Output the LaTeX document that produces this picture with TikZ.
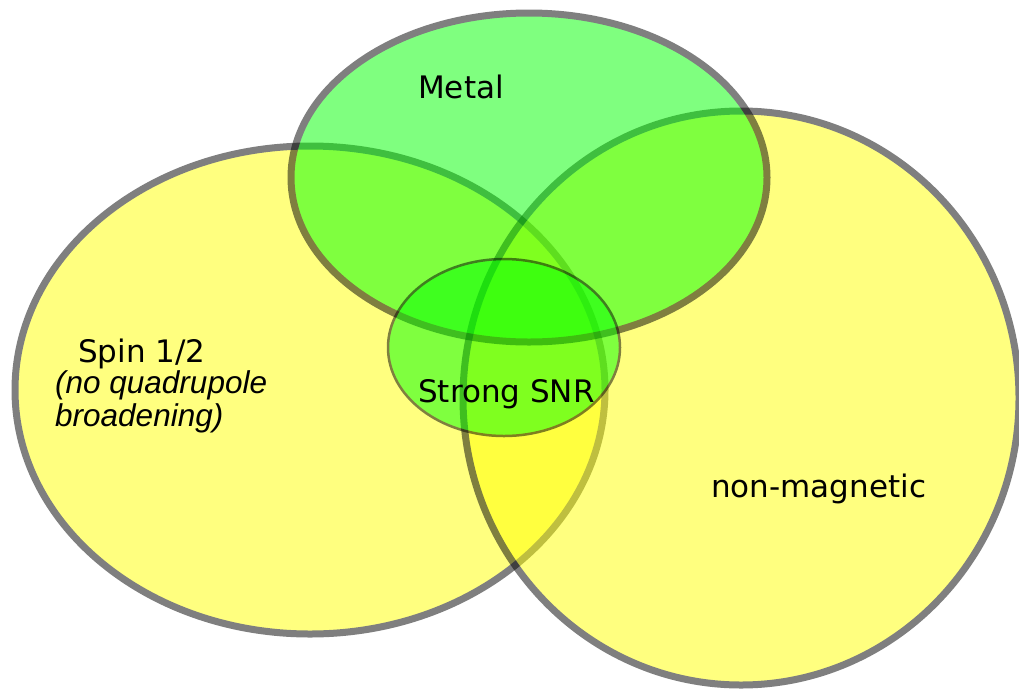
\documentclass[tikz,border=0pt]{standalone}
\usepackage{fontspec}
\setmainfont{DejaVu Sans}
\newfontfamily\notefont{Liberation Sans}
\definecolor{setyellow}{RGB}{255,255,0}
\definecolor{setgreen}{RGB}{0,255,0}
\begin{document}
\begin{tikzpicture}[x=1pt,y=-1pt,
    venn/.style={draw=black,line width=7pt},
    settext/.style={font=\fontsize{31}{35}\selectfont,inner sep=0pt,anchor=base west}]
  \useasboundingbox (0,0) rectangle (1019,691);
  \clip (0,0) rectangle (1019,691);

  % sets, back to front, each one at half opacity
  \begin{scope}[transparency group,opacity=.5]
    \draw[venn,fill=setyellow] (310,390) ellipse [x radius=295pt,y radius=244pt];
  \end{scope}
  \begin{scope}[transparency group,opacity=.5]
    \draw[venn,fill=setyellow] (741,398) ellipse [x radius=278pt,y radius=287pt];
  \end{scope}
  \begin{scope}[transparency group,opacity=.5]
    \draw[venn,fill=setgreen] (529,177.5) ellipse [x radius=238pt,y radius=164.5pt];
  \end{scope}
  \begin{scope}[transparency group,opacity=.5]
    \draw[venn,fill=setgreen,line width=2.5pt] (504,347.5) ellipse [x radius=116pt,y radius=88.5pt];
  \end{scope}

  \node[settext] (metal) at (418,98) {Metal};
  \node[settext] (spin) at (78,362) {Spin 1/2};
  \node[settext,font=\notefont\itshape\fontsize{31.5}{33}\selectfont,align=left]
    (quad) at (55,426) {(no quadrupole\\broadening)};
  \node[settext] (snr) at (418,402) {Strong SNR};
  \node[settext] (nonmag) at (711,497) {non-magnetic};
\end{tikzpicture}
\end{document}
